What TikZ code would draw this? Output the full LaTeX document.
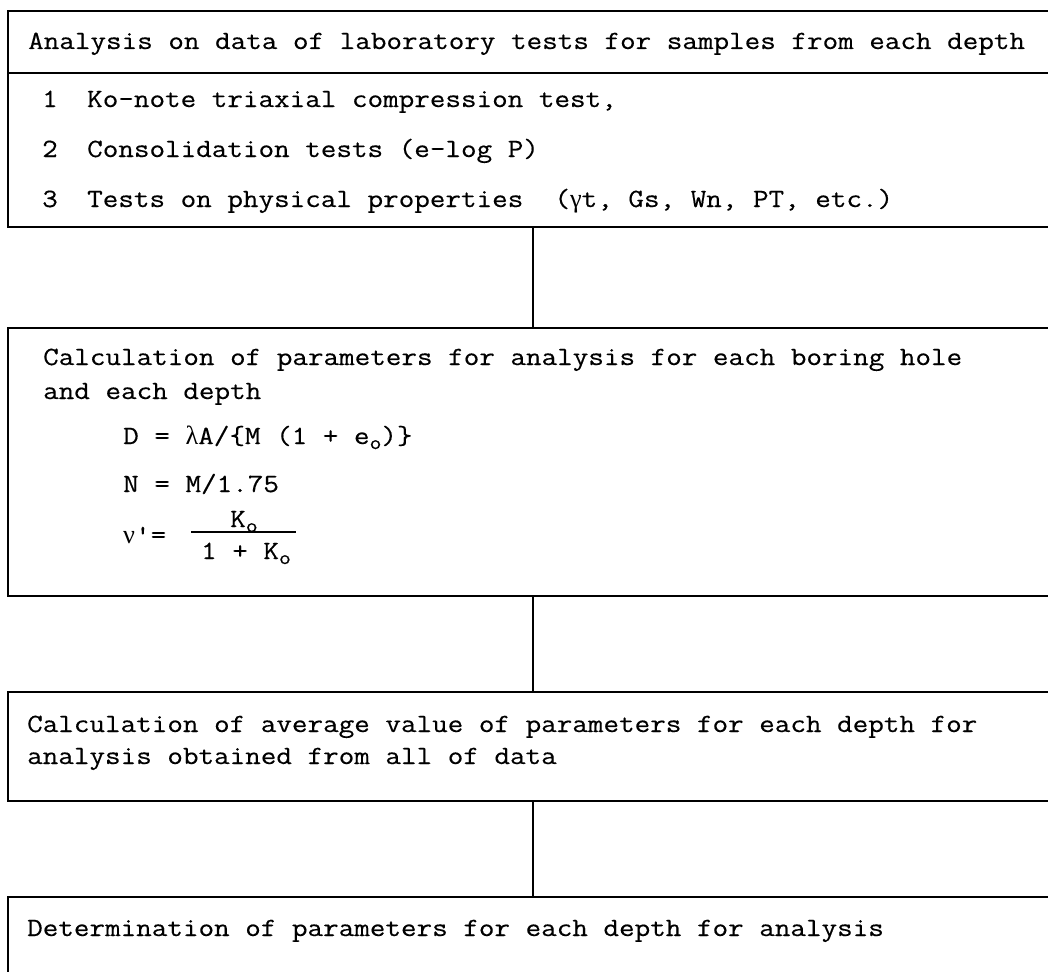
\documentclass[tikz,border=0pt]{standalone}
\usepackage{fontspec}
\setmonofont{Latin Modern Mono}[FakeStretch=1.15,FakeBold=0.4]
\newfontfamily\grk{Liberation Serif}
\newcommand{\sbo}{\raisebox{-5pt}{\fontsize{20}{20}\selectfont o}}
\newcommand{\gk}[1]{{\grk #1}}
\begin{document}
\begin{tikzpicture}[x=1pt,y=-1pt,
  boxst/.style={draw=black, line width=1.8pt, rectangle, inner sep=0pt, anchor=north west, minimum width=1100pt},
  txt/.style={anchor=base west, inner sep=0pt, font=\ttfamily\fontsize{26.3}{30}\selectfont},
  ctxt/.style={anchor=base, inner sep=0pt, font=\ttfamily\fontsize{26.3}{30}\selectfont},
  conn/.style={draw=black, line width=1.8pt}]
\clip (0,0) rectangle (1048,971);
\fill[white] (0,0) rectangle (1048,971);

% boxes (open to the right edge)
\node[boxst, minimum height=216pt] (b1) at (7,10) {};
\node[boxst, minimum height=268pt] (b2) at (7,327) {};
\node[boxst, minimum height=109pt] (b3) at (7,691) {};
\node[boxst, minimum height=120pt] (b4) at (7,896) {};

% header separator
\coordinate (sep) at (0,73);
\draw[conn] (b1.west |- sep) -- (b1.east |- sep);

% connectors
\coordinate (cx) at (533,0);
\draw[conn] (b1.south -| cx) -- (b2.north -| cx);
\draw[conn] (b2.south -| cx) -- (b3.north -| cx);
\draw[conn] (b3.south -| cx) -- (b4.north -| cx);

% box 1 text
\node[txt] (h1) at (28,49) {Analysis on data of laboratory tests for samples from each depth};
\node[txt] (n1) at (42,107) {1};
\node[txt] (t1) at (87,107) {Ko-note triaxial compression test,};
\node[txt] (n2) at (42,157) {2};
\node[txt] (t2) at (87,157) {Consolidation tests (e-log P)};
\node[txt] (n3) at (42,207) {3};
\node[txt] (t3) at (87,207) {Tests on physical properties\ \ (\gk{γ}t, Gs, Wn, PT, etc.)};

% box 2 text
\node[txt] (c1) at (43,365) {Calculation of parameters for analysis for each boring hole};
\node[txt] (c2) at (43,399) {and each depth};
\node[txt] (fD) at (123,444) {D = \gk{λ}A/\{M (1 + e\sbo)\}};
\node[txt] (fN) at (123,492) {N = M/1.75};
\node[txt] (fnu) at (123,543) {\gk{ν}'=};
\node[ctxt] (num) at (244,527) {K\sbo};
\node[ctxt] (den) at (246,559) {1 + K\sbo};
\draw[line width=1.4pt] (191,532) -- (296,532);

% box 3 text
\node[txt] (a1) at (27,732) {Calculation of average value of parameters for each depth for};
\node[txt] (a2) at (27,764) {analysis obtained from all of data};

% box 4 text
\node[txt] (d1) at (27,936) {Determination of parameters for each depth for analysis};
\end{tikzpicture}
\end{document}
